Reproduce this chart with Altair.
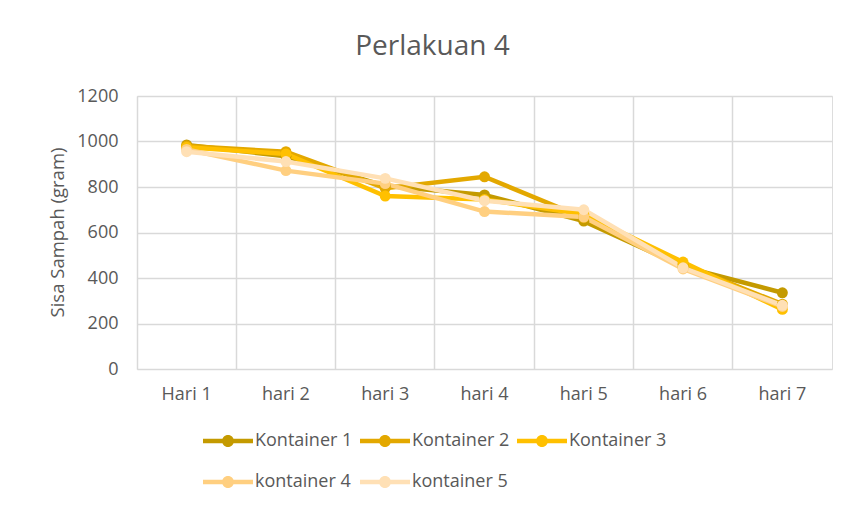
import altair as alt
import pandas as pd

days = ["Hari 1", "hari 2", "hari 3", "hari 4", "hari 5", "hari 6", "hari 7"]
series = ["Kontainer 1", "Kontainer 2", "Kontainer 3", "kontainer 4", "kontainer 5"]
k1 = [985, 935, 805, 765, 650, 450, 335]
k2 = [980, 955, 795, 845, 665, 460, 285]
k3 = [975, 945, 760, 745, 680, 470, 262]
k4 = [965, 872, 815, 692, 668, 440, 275]
k5 = [955, 912, 838, 740, 700, 445, 280]
colors = ["#C49A00", "#E3A800", "#FFC000", "#FFCF80", "#FFE0B5"]

rows = []
for i, (name, vals) in enumerate(zip(series, [k1, k2, k3, k4, k5])):
    for d, v in zip(days, vals):
        rows.append({"day": d, "series": name, "value": v, "ord": i})
df = pd.DataFrame(rows)

FONT = "Open Sans"
GREY = "#595959"

legend_symbol = ("M-1,-0.22 L4,-0.22 L4,0.22 L-1,0.22 Z "
                 "M0.9,0 A0.6,0.6 0 1,1 2.1,0 A0.6,0.6 0 1,1 0.9,0 Z")

color = alt.Color(
    "series:N",
    scale=alt.Scale(domain=series, range=colors),
    legend=alt.Legend(
        title=None, orient="none", legendX=66, legendY=335, direction="horizontal",
        columns=3, symbolType=legend_symbol, symbolSize=400, symbolStrokeWidth=0,
        labelOffset=32, labelFont=FONT, labelFontSize=18, labelColor=GREY,
        columnPadding=7, rowPadding=22, padding=0, labelLimit=200,
    ),
)

x = alt.X("day:N", sort=days, title=None,
          scale=alt.Scale(type="band", paddingInner=0, paddingOuter=0),
          axis=alt.Axis(labelAngle=0, labelFont=FONT, labelFontSize=18, labelColor=GREY,
                        domain=False, ticks=False, tickSize=0, labelPadding=16,
                        grid=True, gridColor="#D9D9D9", gridWidth=1.5, bandPosition=0))
y = alt.Y("value:Q", title="Sisa Sampah (gram)",
          scale=alt.Scale(domain=[0, 1200], nice=False),
          axis=alt.Axis(values=[0, 200, 400, 600, 800, 1000, 1200], format="d",
                        labelFont=FONT, labelFontSize=18, labelColor=GREY, domain=False,
                        ticks=False, tickSize=0, labelPadding=19, gridColor="#D9D9D9",
                        gridWidth=1.5, titleFont=FONT, titleFontSize=18.5, titleColor=GREY,
                        titleFontWeight="normal", titleX=-80, titleY=136,
                        titleAlign="center", titleBaseline="middle", titleAngle=270))

base = alt.Chart(df)
lines = base.mark_line(strokeWidth=4.5).encode(x=x, y=y, color=color, order="ord:Q")
points = base.mark_point(filled=True, size=120, opacity=1).encode(
    x=x, y=y, color=alt.Color("series:N", scale=alt.Scale(domain=series, range=colors), legend=None))

chart = alt.layer(lines, points).properties(
    width=695, height=273,
    title=alt.TitleParams("Perlakuan 4", font=FONT, fontSize=28, fontWeight="normal",
                          color=GREY, anchor="middle", dx=-52, offset=26),
    autosize=alt.AutoSizeParams(type="none"),
    padding={"left": 129, "top": 88, "right": 5, "bottom": 136},
).configure_view(stroke="#D9D9D9", strokeWidth=1.5).configure(background="white")

chart.save("out.html", embed_options={"renderer": "svg", "actions": False})
